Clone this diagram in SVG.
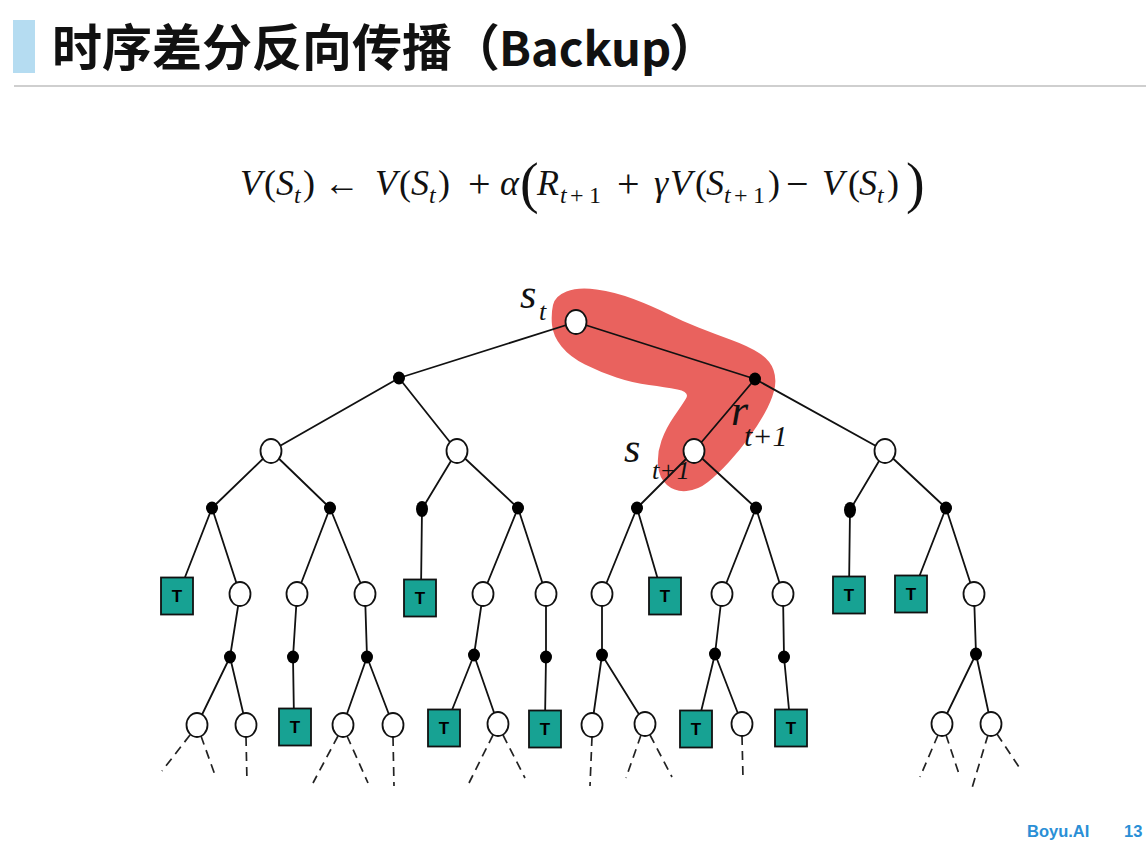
<svg xmlns="http://www.w3.org/2000/svg" width="1146" height="849" viewBox="0 0 1146 849">
<style>
.ln{stroke:#111;stroke-width:1.8;fill:none}
.ds{stroke:#222;stroke-width:1.7;fill:none;stroke-dasharray:9 6}
.o{fill:#fff;stroke:#111;stroke-width:1.8}
.d{fill:#000}
.t{fill:#17a293;stroke:#111;stroke-width:1.8}
.tl{font-family:"Liberation Sans",Arial,sans-serif;font-weight:700;font-size:17px;fill:#000;text-anchor:middle}
.f text{font-family:"Liberation Serif","Times New Roman",serif;fill:#111}
.m{font-size:36px}
.mi{font-size:36px;font-style:italic}
.op{font-size:40px}
.ms{font-size:24px;font-style:italic}
.mso{font-size:24px}
.bp{font-size:56px}
.lb{font-family:"Liberation Serif","Times New Roman",serif;font-style:italic;fill:#111}
</style>
<rect width="1146" height="849" fill="#fff"/>
<g id="header">
<rect x="13" y="20" width="22" height="53" fill="#b5dcf1"/>
<text y="66" font-family="'Noto Sans CJK SC','Noto Sans',sans-serif" font-weight="700" font-size="50" fill="#111"><tspan x="52">时序差分反向传播</tspan><tspan x="450" font-family="'Noto Sans CJK TC',sans-serif">（</tspan><tspan x="499" font-size="47">Backup</tspan><tspan x="669" font-family="'Noto Sans CJK TC',sans-serif">）</tspan></text>
<rect x="14" y="85" width="1132" height="2" fill="#cfcfcf"/>
</g>
<g id="formula" class="f">
<text class="mi" x="240" y="195">V</text>
<text class="m" x="264" y="195">(</text>
<text class="mi" x="276" y="195">S</text>
<text class="ms" x="294" y="203">t</text>
<text class="m" x="303" y="195">)</text>
<text class="m" x="324" y="195">←</text>
<text class="mi" x="375" y="195">V</text>
<text class="m" x="399" y="195">(</text>
<text class="mi" x="411" y="195">S</text>
<text class="ms" x="429" y="203">t</text>
<text class="m" x="438" y="195">)</text>
<text class="op" x="468" y="197">+</text>
<text class="mi" x="500" y="195">α</text>
<text class="bp" x="520" y="202">(</text>
<text class="mi" x="537" y="195">R</text>
<text class="ms" x="560" y="203">t</text>
<text class="mso" x="570" y="203">+</text>
<text class="mso" x="589" y="203">1</text>
<text class="op" x="617" y="197">+</text>
<text class="mi" x="654" y="195">γ</text>
<text class="mi" x="670" y="195">V</text>
<text class="m" x="695" y="195">(</text>
<text class="mi" x="706" y="195">S</text>
<text class="ms" x="724" y="203">t</text>
<text class="mso" x="734" y="203">+</text>
<text class="mso" x="753" y="203">1</text>
<text class="m" x="768" y="195">)</text>
<text class="op" x="786" y="197">−</text>
<text class="mi" x="822" y="195">V</text>
<text class="m" x="848" y="195">(</text>
<text class="mi" x="859" y="195">S</text>
<text class="ms" x="877" y="203">t</text>
<text class="m" x="887" y="195">)</text>
<text class="bp" x="906" y="202">)</text>
</g>
<g id="highlight">
<path fill="#e9625e" d="M553,305 Q555,296 566.5,291.5 Q578,287 596.5,289.5 Q615,292 633.5,299 Q652,306 667,313.5 Q682,321 698.5,327.5 Q715,334 731.5,340 Q748,346 759,353 Q770,360 773.5,370 Q777,380 774,391 Q771,402 764.5,413.5 Q758,425 749,437.5 Q740,450 729,462 Q718,474 708,482 Q698,490 686.5,491 Q675,492 667,485 Q659,478 658,465.5 Q657,453 661.5,440.5 Q666,428 674,416.5 Q682,405 686,398.5 Q690,392 677.5,389.5 Q665,387 649,385 Q633,383 616.5,377.5 Q600,372 585,364.5 Q570,357 561.5,346.5 Q553,336 552,325 Q551,314 553,305 Z"/>
</g>
<g id="connectors">
<path class="ln" d="M576,322 L399,378 M576,322 L755,379 M399,378 L271,451 M399,378 L457,451 M755,379 L694,451 M755,379 L885,451
M271,451 L212,508 M271,451 L330,508 M457,451 L422,509 M457,451 L518,508 M694,451 L637,508 M694,451 L756,508 M885,451 L850,510 M885,451 L946,508
M212,508 L180,590 M212,508 L240,594 M330,508 L297,594 M330,508 L365,594 M422,509 L421,590 M518,508 L483,594 M518,508 L546,594
M637,508 L661,590 M637,508 L602,594 M756,508 L722,594 M756,508 L783,594 M850,510 L849,590 M946,508 L914,590 M946,508 L974,594
M240,594 L230,657 M297,594 L293,657 M365,594 L367,657 M483,594 L474,655 M546,594 L546,657 M602,594 L602,655 M722,594 L715,654 M783,594 L784,657 M974,594 L976,654
M230,657 L197,725 M230,657 L246,725 M293,657 L294,720 M367,657 L343,725 M367,657 L393,725 M474,655 L448,720 M474,655 L498,724 M546,657 L545,720
M602,655 L592,725 M602,655 L645,724 M715,654 L699,720 M715,654 L742,724 M784,657 L790,720 M976,654 L942,724 M976,654 L991,724"/>
<path class="ds" d="M190,735 L162,771 M201,736 L215,775 M246,737 L247,782 M338,736 L313,783 M347,736 L368,783 M393,737 L394,786 M493,735 L469,783 M503,735 L525,778 M592,737 L590,786 M641,735 L626,778 M650,735 L672,777 M742,736 L743,778 M938,735 L920,777 M946,735 L960,777 M988,735 L972,788 M997,734 L1021,770"/>
</g>
<g id="nodes">
<g id="root"><ellipse class="o" cx="576" cy="322" rx="10.5" ry="12"/></g>
<g id="a1"><ellipse class="d" cx="399" cy="378" rx="6" ry="6.5"/></g>
<g id="a2"><ellipse class="d" cx="755" cy="379" rx="6" ry="6.5"/></g>
<g id="s1"><ellipse class="o" cx="271" cy="451" rx="10.5" ry="12"/></g>
<g id="s2"><ellipse class="o" cx="457" cy="451" rx="10.5" ry="12"/></g>
<g id="s3"><ellipse class="o" cx="694" cy="451" rx="10.5" ry="12"/></g>
<g id="s4"><ellipse class="o" cx="885" cy="451" rx="10.5" ry="12"/></g>
<g id="a11"><ellipse class="d" cx="212" cy="508" rx="6" ry="6.5"/></g>
<g id="a12"><ellipse class="d" cx="330" cy="508" rx="6" ry="6.5"/></g>
<g id="a21"><ellipse class="d" cx="422" cy="509" rx="6" ry="8"/></g>
<g id="a22"><ellipse class="d" cx="518" cy="508" rx="6" ry="6.5"/></g>
<g id="a31"><ellipse class="d" cx="637" cy="508" rx="6" ry="6.5"/></g>
<g id="a32"><ellipse class="d" cx="756" cy="508" rx="6" ry="6.5"/></g>
<g id="a41"><ellipse class="d" cx="850" cy="510" rx="6" ry="8"/></g>
<g id="a42"><ellipse class="d" cx="946" cy="508" rx="6" ry="6.5"/></g>
<g id="t1"><rect class="t" x="161" y="577.5" width="32" height="37"/><text class="tl" x="177" y="602">T</text></g>
<g id="s111"><ellipse class="o" cx="240" cy="594" rx="10.5" ry="12"/></g>
<g id="s121"><ellipse class="o" cx="297" cy="594" rx="10.5" ry="12"/></g>
<g id="s122"><ellipse class="o" cx="365" cy="594" rx="10.5" ry="12"/></g>
<g id="t2"><rect class="t" x="404" y="579.5" width="32" height="37"/><text class="tl" x="420" y="604">T</text></g>
<g id="s221"><ellipse class="o" cx="483" cy="594" rx="10.5" ry="12"/></g>
<g id="s222"><ellipse class="o" cx="546" cy="594" rx="10.5" ry="12"/></g>
<g id="s311"><ellipse class="o" cx="602" cy="594" rx="10.5" ry="12"/></g>
<g id="t3"><rect class="t" x="649" y="577.5" width="32" height="37"/><text class="tl" x="665" y="602">T</text></g>
<g id="s321"><ellipse class="o" cx="722" cy="594" rx="10.5" ry="12"/></g>
<g id="s322"><ellipse class="o" cx="783" cy="594" rx="10.5" ry="12"/></g>
<g id="t4"><rect class="t" x="833" y="576.5" width="32" height="37"/><text class="tl" x="849" y="601">T</text></g>
<g id="t5"><rect class="t" x="895" y="575.5" width="32" height="37"/><text class="tl" x="911" y="600">T</text></g>
<g id="s421"><ellipse class="o" cx="974" cy="594" rx="10.5" ry="12"/></g>
<g id="b1"><ellipse class="d" cx="230" cy="657" rx="6" ry="6.5"/></g>
<g id="b2"><ellipse class="d" cx="293" cy="657" rx="6" ry="6.5"/></g>
<g id="b3"><ellipse class="d" cx="367" cy="657" rx="6" ry="6.5"/></g>
<g id="b4"><ellipse class="d" cx="474" cy="655" rx="6" ry="6.5"/></g>
<g id="b5"><ellipse class="d" cx="546" cy="657" rx="6" ry="6.5"/></g>
<g id="b6"><ellipse class="d" cx="602" cy="655" rx="6" ry="6.5"/></g>
<g id="b7"><ellipse class="d" cx="715" cy="654" rx="6" ry="6.5"/></g>
<g id="b8"><ellipse class="d" cx="784" cy="657" rx="6" ry="6.5"/></g>
<g id="b9"><ellipse class="d" cx="976" cy="654" rx="6" ry="6.5"/></g>
<g id="c1"><ellipse class="o" cx="197" cy="725" rx="10.5" ry="12"/></g>
<g id="c2"><ellipse class="o" cx="246" cy="725" rx="10.5" ry="12"/></g>
<g id="t6"><rect class="t" x="279" y="708.5" width="32" height="37"/><text class="tl" x="295" y="733">T</text></g>
<g id="c3"><ellipse class="o" cx="343" cy="725" rx="10.5" ry="12"/></g>
<g id="c4"><ellipse class="o" cx="393" cy="725" rx="10.5" ry="12"/></g>
<g id="t7"><rect class="t" x="428" y="709.5" width="32" height="37"/><text class="tl" x="444" y="734">T</text></g>
<g id="c5"><ellipse class="o" cx="498" cy="724" rx="10.5" ry="12"/></g>
<g id="t8"><rect class="t" x="529" y="710.5" width="32" height="37"/><text class="tl" x="545" y="735">T</text></g>
<g id="c6"><ellipse class="o" cx="592" cy="725" rx="10.5" ry="12"/></g>
<g id="c7"><ellipse class="o" cx="645" cy="724" rx="10.5" ry="12"/></g>
<g id="t9"><rect class="t" x="680" y="710.5" width="32" height="37"/><text class="tl" x="696" y="735">T</text></g>
<g id="c8"><ellipse class="o" cx="742" cy="724" rx="10.5" ry="12"/></g>
<g id="t10"><rect class="t" x="775" y="709.5" width="32" height="37"/><text class="tl" x="791" y="734">T</text></g>
<g id="c9"><ellipse class="o" cx="942" cy="724" rx="10.5" ry="12"/></g>
<g id="c10"><ellipse class="o" cx="991" cy="724" rx="10.5" ry="12"/></g>
</g>
<g id="labels">
<text class="lb" x="520" y="308" font-size="42">s</text>
<text class="lb" x="539" y="320" font-size="26">t</text>
<text class="lb" x="624" y="462" font-size="42">s</text>
<text class="lb" x="652" y="479" font-size="26">t+1</text>
<text class="lb" x="731" y="425" font-size="44">r</text>
<text class="lb" x="744" y="446" font-size="30">t+1</text>
</g>
<g id="footer" font-family="'Liberation Sans',Arial,sans-serif" font-weight="700" font-size="16.5" fill="#2a8fd6">
<text x="1027" y="837">Boyu.AI</text>
<text x="1124" y="837">13</text>
</g>
</svg>
